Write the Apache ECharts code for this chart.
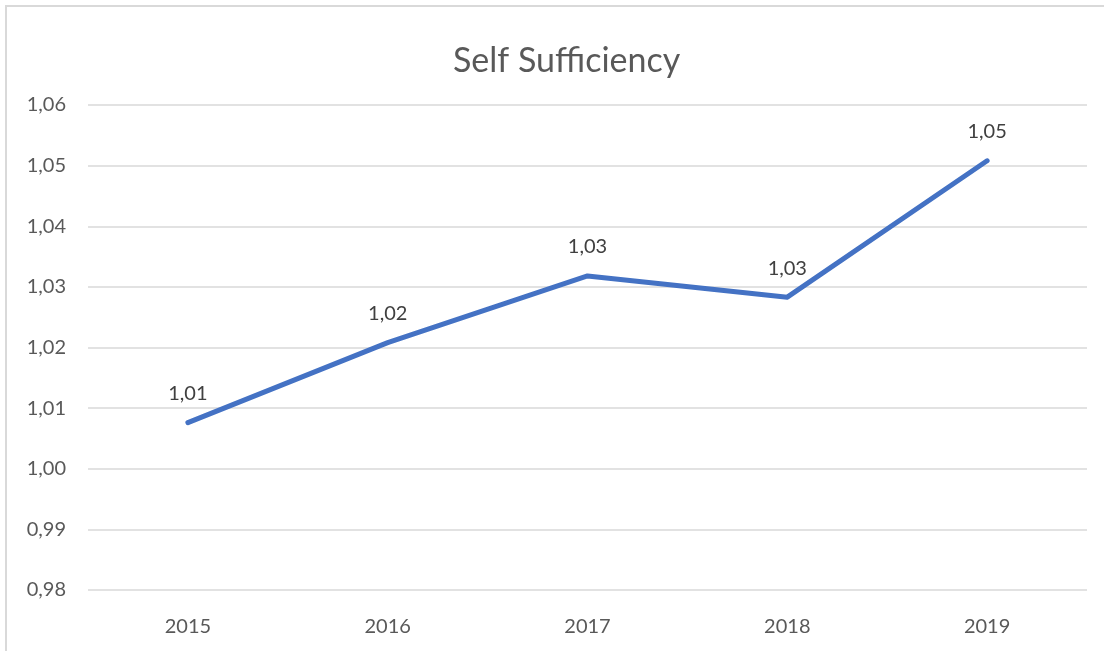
<!DOCTYPE html>
<html>
<head>
<meta charset="utf-8">
<script src="https://cdn.jsdelivr.net/npm/echarts@6/dist/echarts.min.js"></script>
<style>
html,body{margin:0;padding:0;background:#fff;}
#chart{width:1104px;height:651px;}
</style>
</head>
<body>
<div id="chart"></div>
<script>
const title = 'Self Sufficiency';
const years = ['2015', '2016', '2017', '2018', '2019'];
const values = [1.0076, 1.0208, 1.0318, 1.0283, 1.0508];
const yMin = 0.98, yMax = 1.06, yStep = 0.01;

const fmt = v => Number(v).toFixed(2).replace('.', ',');
const FONT = 'Lato, "Open Sans", sans-serif';

const chart = echarts.init(document.getElementById('chart'));
chart.setOption({
  animation: false,
  backgroundColor: '#ffffff',
  graphic: [{
    type: 'rect',
    shape: { x: 6, y: 6, width: 1120, height: 670 },
    style: { fill: 'none', stroke: '#d9d9d9', lineWidth: 2 },
    silent: true
  }],
  title: {
    text: title,
    left: 448,
    top: 39,
    textStyle: { fontFamily: FONT, fontSize: 34, fontWeight: 'normal', color: '#595959' }
  },
  grid: { left: 88, right: 17, top: 105, bottom: 61, containLabel: false },
  xAxis: {
    type: 'category',
    data: years,
    boundaryGap: true,
    axisLine: { show: false },
    axisTick: { show: false },
    axisLabel: { margin: 27, fontFamily: FONT, fontSize: 20, color: '#595959' }
  },
  yAxis: {
    type: 'value',
    min: yMin,
    max: yMax,
    interval: yStep,
    axisLine: { show: false },
    axisTick: { show: false },
    splitLine: { lineStyle: { color: '#d9d9d9', width: 1.5 } },
    axisLabel: { margin: 22, fontFamily: FONT, fontSize: 20, color: '#595959', formatter: fmt }
  },
  series: [{
    type: 'line',
    data: values,
    symbol: 'circle',
    symbolSize: 4,
    itemStyle: { color: '#4472c4' },
    lineStyle: { color: '#4472c4', width: 5, cap: 'round', join: 'round' },
    label: {
      show: true,
      position: 'top',
      distance: 17,
      fontFamily: FONT,
      fontSize: 20,
      color: '#404040',
      formatter: p => fmt(p.value)
    }
  }]
});
</script>
</body>
</html>
